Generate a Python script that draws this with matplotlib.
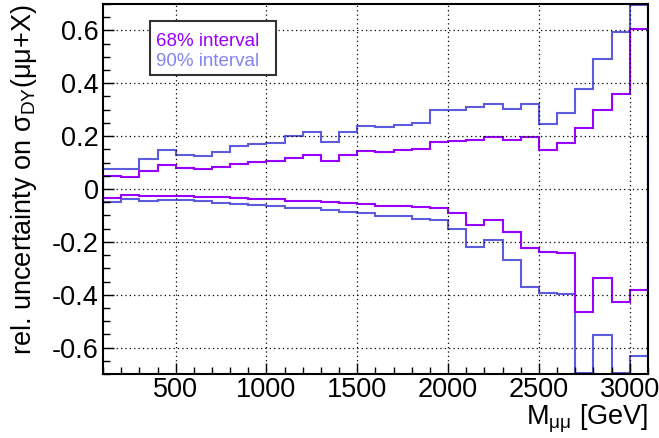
"""Relative uncertainty bands on the Drell-Yan cross section vs dimuon mass."""

import matplotlib
matplotlib.use('Agg')
import matplotlib.pyplot as plt
import matplotlib.ticker as mticker
import numpy as np

# bin edges in GeV (100 GeV bins from 100 to 3100)
edges = np.arange(100, 3101, 100)

up68 = [0.048, 0.046, 0.068, 0.089, 0.078, 0.076, 0.083, 0.096, 0.103, 0.106,
        0.117, 0.130, 0.107, 0.130, 0.143, 0.140, 0.148, 0.153, 0.178, 0.180,
        0.187, 0.197, 0.184, 0.195, 0.149, 0.174, 0.232, 0.297, 0.361, 0.605]
lo68 = [-0.033, -0.022, -0.028, -0.025, -0.027, -0.029, -0.032, -0.034, -0.037, -0.038,
        -0.044, -0.044, -0.048, -0.052, -0.057, -0.063, -0.063, -0.070, -0.073, -0.092,
        -0.135, -0.118, -0.163, -0.225, -0.239, -0.243, -0.464, -0.335, -0.428, -0.383]
up90 = [0.077, 0.075, 0.115, 0.146, 0.130, 0.126, 0.141, 0.161, 0.172, 0.174,
        0.199, 0.214, 0.177, 0.214, 0.237, 0.233, 0.242, 0.251, 0.297, 0.300,
        0.311, 0.323, 0.304, 0.320, 0.246, 0.286, 0.379, 0.490, 0.595, 0.698]
lo90 = [-0.051, -0.036, -0.046, -0.041, -0.043, -0.047, -0.052, -0.057, -0.061, -0.063,
        -0.073, -0.072, -0.080, -0.086, -0.091, -0.102, -0.104, -0.113, -0.118, -0.153,
        -0.220, -0.193, -0.268, -0.371, -0.393, -0.397, -0.698, -0.551, -0.698, -0.630]

C68 = '#9a00ff'
C90 = '#5c5cdc'

plt.rcParams['font.family'] = ['Liberation Sans', 'DejaVu Sans']
plt.rcParams['mathtext.fontset'] = 'custom'
plt.rcParams['mathtext.rm'] = 'Liberation Sans'
plt.rcParams['mathtext.it'] = 'Liberation Sans:italic'
plt.rcParams['axes.unicode_minus'] = False

fig = plt.figure(figsize=(6.59, 4.38), dpi=100)
ax = fig.add_axes([0.1563, 0.1461, 0.827, 0.8448])

ax.stairs(up90, edges, color=C90, linewidth=1.5)
ax.stairs(lo90, edges, color=C90, linewidth=1.5)
ax.stairs(up68, edges, color=C68, linewidth=1.5)
ax.stairs(lo68, edges, color=C68, linewidth=1.5)

ax.set_xlim(100, 3100)
ax.set_ylim(-0.7, 0.7)

ax.xaxis.set_major_locator(mticker.MultipleLocator(500))
ax.xaxis.set_minor_locator(mticker.MultipleLocator(100))
ax.yaxis.set_major_locator(mticker.MultipleLocator(0.2))
ax.yaxis.set_minor_locator(mticker.MultipleLocator(0.05))
ax.yaxis.set_major_formatter(mticker.FuncFormatter(lambda v, _: f'{v:.1f}' if abs(v) > 1e-9 else '0'))

ax.tick_params(which='both', direction='in', top=False, right=False, labelsize=19.5)
ax.tick_params(which='major', length=8, width=1)
ax.tick_params(which='minor', length=5, width=1)
ax.tick_params(axis='x', pad=2)
ax.tick_params(axis='y', pad=3)

ax.grid(True, which='major', color='black', linestyle=(0, (1, 2.5)), linewidth=0.9)
for s in ax.spines.values():
    s.set_linewidth(1.5)

ax.set_xlabel(r'M$_{\mathrm{μμ}}$ [GeV]', fontsize=19.5, loc='right', labelpad=0)
ax.set_ylabel(r'rel. uncertainty on σ$_{\mathrm{DY}}$(μμ+X)', fontsize=19.5, loc='top', labelpad=9)

# legend box, drawn above the grid
box = matplotlib.patches.Rectangle((0.086, 0.809), 0.232, 0.144, transform=ax.transAxes,
                                   facecolor='white', edgecolor='#333333', linewidth=1.5, zorder=4)
ax.add_patch(box)
ax.text(0.0975, 0.899, '68% interval', transform=ax.transAxes, color=C68, fontsize=13.5,
        va='center', ha='left', zorder=5)
ax.text(0.0975, 0.845, '90% interval', transform=ax.transAxes, color='#8484ee', fontsize=13.5,
        va='center', ha='left', zorder=5)

fig.savefig('out.png', dpi=100)
plt.close(fig)
